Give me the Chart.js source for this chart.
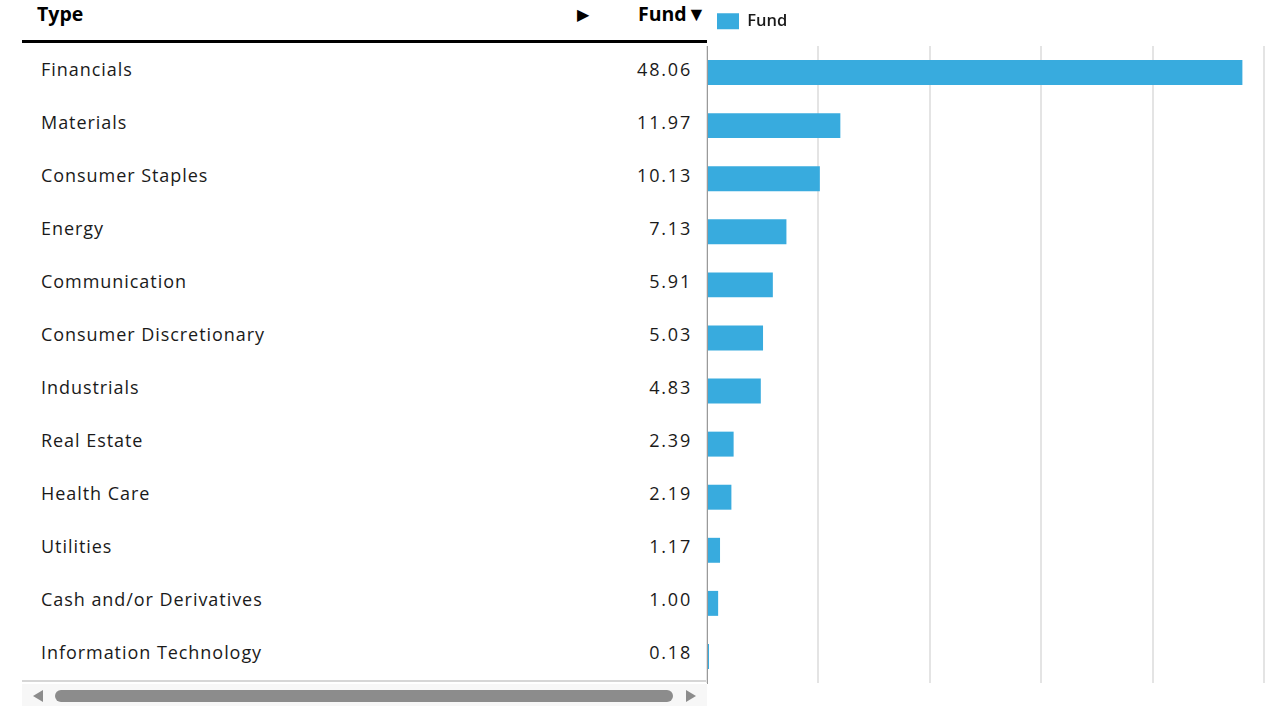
<!DOCTYPE html>
<html>
<head>
<meta charset="utf-8">
<script src="https://cdn.jsdelivr.net/npm/chart.js@4"></script>
<style>
  html,body{margin:0;padding:0;background:#fff;width:1280px;height:718px;overflow:hidden;font-family:"Open Sans",sans-serif;}
  #table{position:absolute;left:22px;top:0;width:685px;}
  .hdr{position:absolute;top:0;left:0;width:685px;height:40px;border-bottom:3px solid #000;}
  .hdr .type{position:absolute;left:15px;top:0px;font-weight:700;font-size:19.5px;color:#000;}
  .hdr .arrow{position:absolute;left:555px;top:3px;font-size:16px;color:#000;}
  .hdr .fund{position:absolute;right:1px;top:0px;font-weight:700;font-size:19.5px;color:#000;}
  .row{position:absolute;left:0;width:685px;height:53px;font-size:18px;color:#1a1a1a;}
  .row .lab{position:absolute;left:19px;top:12px;letter-spacing:0.95px;}
  .row .val{position:absolute;right:15px;top:12px;letter-spacing:1.8px;}
  .bottomline{position:absolute;left:0;top:680px;width:685px;height:2px;background:#d6d6d6;}
  .scroll{position:absolute;left:0;top:684px;width:685px;height:22px;background:#f7f7f7;}
  .thumb{position:absolute;left:33px;top:6px;width:618px;height:12px;border-radius:6px;background:#8c8c8c;}
  .la{position:absolute;left:11px;top:6px;width:0;height:0;border-top:6px solid transparent;border-bottom:6px solid transparent;border-right:10px solid #8c8c8c;}
  .ra{position:absolute;left:664px;top:6px;width:0;height:0;border-top:6px solid transparent;border-bottom:6px solid transparent;border-left:10px solid #8c8c8c;}
  #wrap{position:absolute;left:700px;top:0;width:580px;height:718px;}
</style>
</head>
<body>
<div id="table">
  <div class="hdr"><span class="type">Type</span><span class="arrow">▶</span><span class="fund">Fund▼</span></div>
  <div id="rows"></div>
  <div class="bottomline"></div>
  <div class="scroll"><div class="la"></div><div class="thumb"></div><div class="ra"></div></div>
</div>
<div id="wrap"><canvas id="c" width="580" height="718"></canvas></div>
<script>
const categories = ["Financials","Materials","Consumer Staples","Energy","Communication","Consumer Discretionary","Industrials","Real Estate","Health Care","Utilities","Cash and/or Derivatives","Information Technology"];
const fundValues = [48.06,11.97,10.13,7.13,5.91,5.03,4.83,2.39,2.19,1.17,1.00,0.18];
const seriesName = "Fund";

const rowsEl = document.getElementById('rows');
categories.forEach((c,i)=>{
  const r = document.createElement('div');
  r.className='row';
  r.style.top = (44.5 + i*53.05) + 'px';
  r.innerHTML = '<span class="lab"></span><span class="val"></span>';
  r.querySelector('.lab').textContent = c;
  r.querySelector('.val').textContent = fundValues[i].toFixed(2);
  rowsEl.appendChild(r);
});

const legendHeight = {
  id:'legendHeight',
  beforeInit(chart){
    const orig = chart.legend.fit;
    chart.legend.fit = function(){ orig.bind(chart.legend)(); this.height = 43; };
  }
};

new Chart(document.getElementById('c'), {
  type:'bar',
  data:{
    labels: categories,
    datasets:[{
      label: seriesName,
      data: fundValues,
      backgroundColor:'#38abde',
      borderWidth:0,
      barPercentage:0.47,
      categoryPercentage:1
    }]
  },
  plugins:[legendHeight],
  options:{
    indexAxis:'y',
    responsive:false,
    animation:false,
    layout:{padding:{left:7,right:16,top:3,bottom:35}},
    plugins:{
      legend:{
        display:true,
        align:'start',
        labels:{boxWidth:22,boxHeight:16,color:'#1a1a1a',font:{family:'Open Sans',size:16.5,weight:'600'},padding:10}
      },
      tooltip:{enabled:false}
    },
    scales:{
      x:{
        min:0,max:50,
        ticks:{display:false,stepSize:10},
        grid:{color:'#e4e4e4',lineWidth:2,drawTicks:false},
        border:{display:false}
      },
      y:{
        ticks:{display:false},
        grid:{display:false,drawTicks:false},
        border:{display:true,color:'#9a9a9a',width:1}
      }
    }
  }
});
</script>
</body>
</html>
